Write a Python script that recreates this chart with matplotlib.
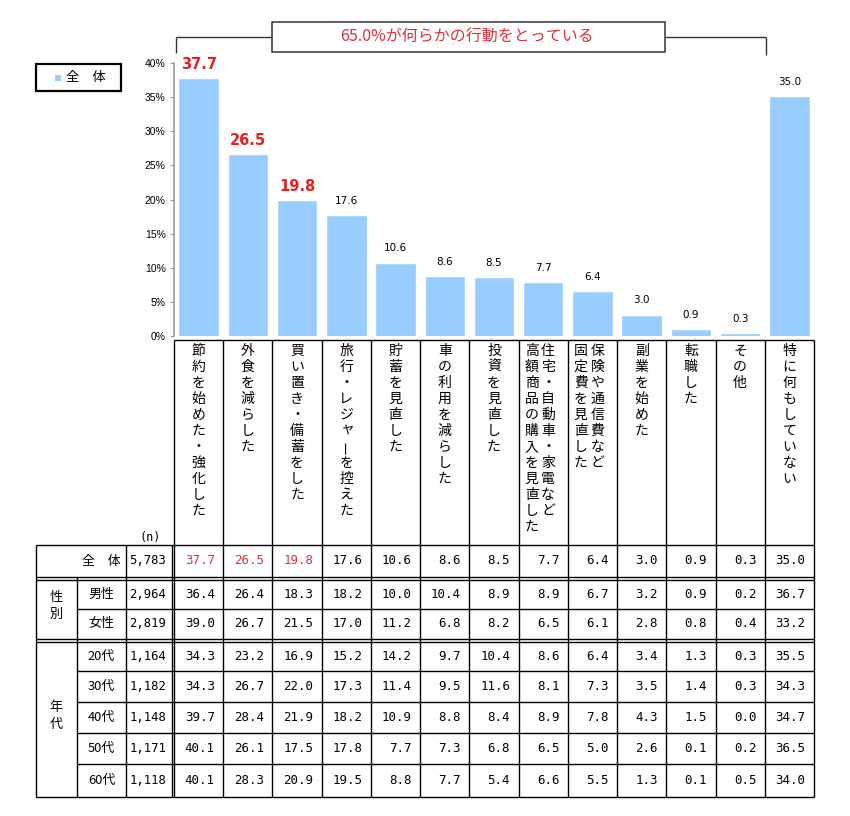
import matplotlib
matplotlib.use("Agg")
import matplotlib.pyplot as plt
from matplotlib.patches import Rectangle

# ---------------- data ----------------
categories = [
    "節約を始めた・強化した",
    "外食を減らした",
    "買い置き・備蓄をした",
    "旅行・レジャーを控えた",
    "貯蓄を見直した",
    "車の利用を減らした",
    "投資を見直した",
    "住宅・自動車・家電など\n高額商品の購入を見直した",
    "保険や通信費など\n固定費を見直した",
    "副業を始めた",
    "転職した",
    "その他",
    "特に何もしていない",
]
overall = [37.7, 26.5, 19.8, 17.6, 10.6, 8.6, 8.5, 7.7, 6.4, 3.0, 0.9, 0.3, 35.0]
highlight_n = 3  # top three shown in red

row_labels = ["全　体", "男性", "女性", "20代", "30代", "40代", "50代", "60代"]
row_n = ["5,783", "2,964", "2,819", "1,164", "1,182", "1,148", "1,171", "1,118"]
row_male = [36.4, 26.4, 18.3, 18.2, 10.0, 10.4, 8.9, 8.9, 6.7, 3.2, 0.9, 0.2, 36.7]
row_female = [39.0, 26.7, 21.5, 17.0, 11.2, 6.8, 8.2, 6.5, 6.1, 2.8, 0.8, 0.4, 33.2]
row_20s = [34.3, 23.2, 16.9, 15.2, 14.2, 9.7, 10.4, 8.6, 6.4, 3.4, 1.3, 0.3, 35.5]
row_30s = [34.3, 26.7, 22.0, 17.3, 11.4, 9.5, 11.6, 8.1, 7.3, 3.5, 1.4, 0.3, 34.3]
row_40s = [39.7, 28.4, 21.9, 18.2, 10.9, 8.8, 8.4, 8.9, 7.8, 4.3, 1.5, 0.0, 34.7]
row_50s = [40.1, 26.1, 17.5, 17.8, 7.7, 7.3, 6.8, 6.5, 5.0, 2.6, 0.1, 0.2, 36.5]
row_60s = [40.1, 28.3, 20.9, 19.5, 8.8, 7.7, 5.4, 6.6, 5.5, 1.3, 0.1, 0.5, 34.0]
group_labels = ["性別", "年代"]
legend_label = "全　体"
banner_text = "65.0%が何らかの行動をとっている"
y_ticks = [0, 5, 10, 15, 20, 25, 30, 35, 40]

table_rows = [overall, row_male, row_female, row_20s, row_30s, row_40s, row_50s, row_60s]

# ---------------- style ----------------
JP = ["Noto Sans CJK JP", "DejaVu Sans"]
BAR_COLOR = "#99CCFF"
RED = "#E8201E"
TRED = "#E0303A"
LINE = "#000000"

W, H = 850, 816
fig = plt.figure(figsize=(W / 100, H / 100), dpi=100)

# chart axes in pixel layout
x_left, x_right = 174.0, 814.0
y0_px, y40_px = 336.0, 63.0
ncol = len(categories)
colw = (x_right - x_left) / ncol

ax = fig.add_axes([x_left / W, 1 - y0_px / H, (x_right - x_left) / W, (y0_px - y40_px) / H])
xs = list(range(ncol))
ax.bar(xs, overall, width=0.78, color=BAR_COLOR, edgecolor="#A8D4FF", linewidth=0.6, zorder=2)
ax.set_xlim(-0.5, ncol - 0.5)
ax.set_ylim(0, 40)
ax.set_yticks(y_ticks)
ax.set_yticklabels([f"{t}%" for t in y_ticks], fontsize=7.5, family="Liberation Sans")
ax.set_xticks([])
for s in ["top", "right", "bottom"]:
    ax.spines[s].set_visible(False)
ax.spines["left"].set_color("#9A9A9A")
ax.spines["left"].set_linewidth(1.2)
ax.tick_params(axis="y", direction="out", length=3, color="#9A9A9A", pad=3)
ax.patch.set_visible(False)

for i, v in enumerate(overall):
    if i < highlight_n:
        ax.annotate(f"{v:.1f}", (i, v), xytext=(0, 10.5), textcoords="offset points",
                    ha="center", va="center", fontsize=10.5, fontweight="bold",
                    color=RED, family="DejaVu Sans")
    else:
        ax.annotate(f"{v:.1f}", (i, v), xytext=(0, 11), textcoords="offset points",
                    ha="center", va="center", fontsize=7.5, color="black",
                    family="DejaVu Sans")

# overlay axes in pixel coordinates
ov = fig.add_axes([0, 0, 1, 1])
ov.set_xlim(0, W)
ov.set_ylim(H, 0)
ov.axis("off")
ov.patch.set_visible(False)


def hline(y, x1, x2, lw=1.0, c=LINE):
    ov.plot([x1, x2], [y, y], color=c, lw=lw, solid_capstyle="butt")


def vline(x, y1, y2, lw=1.0, c=LINE):
    ov.plot([x, x], [y1, y2], color=c, lw=lw, solid_capstyle="butt")


# banner
ov.add_patch(Rectangle((272, 22), 393, 30, fill=False, ec="#333333", lw=1.1))
hline(37, 176, 272, c="#333333")
vline(176, 37, 53, c="#333333")
hline(37, 665, 766, c="#333333")
vline(766, 37, 55, c="#333333")
ov.text(467, 37.5, banner_text, ha="center", va="center", color=TRED, fontsize=11.5, family=JP)

# legend
ov.add_patch(Rectangle((36, 64), 85, 27, fill=False, ec="black", lw=1.6))
ov.add_patch(Rectangle((55.5, 74.5), 6, 6, color=BAR_COLOR, lw=0))
ov.text(66, 77.5, legend_label, ha="left", va="center", fontsize=9.5, family=JP)

# label area + table grid
lab_top = 340.0
tab_top = 545.0
rows = [(545, 577), (580, 608.5), (608.5, 639), (642, 671), (671, 702),
        (702, 732.5), (732.5, 763.5), (763.5, 797)]
tab_bot = 797.0

hline(lab_top, x_left, x_right)
for k in range(ncol + 1):
    vline(x_left + 0.5 + colw * k if k == 0 else x_left + colw * k, lab_top, tab_bot)
vline(172, tab_top, tab_bot)

hline(tab_top, 36, x_right)
hline(577, 36, x_right)
hline(580, 36, x_right)
hline(608.5, 77, x_right)
hline(639, 36, x_right)
hline(642, 36, x_right)
for y in [671, 702, 732.5, 763.5]:
    hline(y, 77, x_right)
hline(tab_bot, 36, x_right)
vline(36, tab_top, tab_bot)
vline(77, 577, tab_bot)
vline(126, tab_top, tab_bot)

ov.text(150, 537, "(n)", ha="center", va="center", fontsize=8.5, family="DejaVu Sans Mono")

# vertical category labels
step = 16.0
y_first = 351.0
for i, lab in enumerate(categories):
    cl = x_left + colw * i
    parts = lab.split("\n")
    if len(parts) == 1:
        xcols = [cl + colw / 2]
    else:
        xcols = [cl + 29.5, cl + 13.0]  # first line is the right-hand column
    for part, xc in zip(parts, xcols):
        for j, ch in enumerate(part):
            rot = 90 if ch == "ー" else 0
            dx, dy = (2.0, -2.0) if ch in "ャゃっ" else (0.0, 0.0)
            ov.text(xc + dx, y_first + step * j + dy, ch, ha="center", va="center",
                    rotation=rot, fontsize=10, family=JP)

# table contents
for r, (yt, yb) in enumerate(rows):
    yc = (yt + yb) / 2
    ov.text(101.5, yc, row_labels[r], ha="center", va="center", fontsize=9.3, family=JP)
    ov.text(166, yc, row_n[r], ha="right", va="center", fontsize=8.8, family="DejaVu Sans Mono")
    for i, v in enumerate(table_rows[r]):
        red = (r == 0 and i < highlight_n)
        ov.text(x_left + colw * (i + 1) - 8.5, yc, f"{v:.1f}", ha="right", va="center",
                fontsize=9.0, family="DejaVu Sans Mono", color=TRED if red else "black")

# group labels (vertical)
for g, (ya, yb) in zip(group_labels, [(580, 639), (642, 797)]):
    yc = (ya + yb) / 2 - 4
    for j, ch in enumerate(g):
        ov.text(56, yc + (j - (len(g) - 1) / 2) * 17, ch, ha="center", va="center",
                fontsize=9.5, family=JP)

fig.savefig("out.png", dpi=100)
